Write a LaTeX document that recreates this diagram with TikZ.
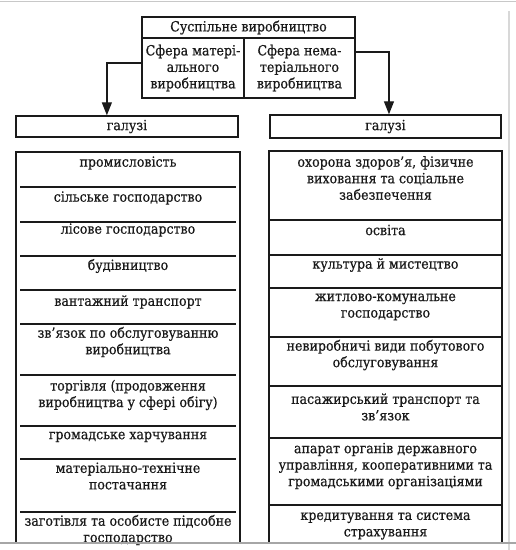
\documentclass[tikz,border=0pt]{standalone}
\usepackage{fontspec}
\setmainfont[FakeStretch=0.9, FakeBold=0.6]{DejaVu Serif}
\usepackage{tikz}
\usetikzlibrary{arrows.meta,positioning,calc}
\definecolor{ink}{HTML}{1A1A1A}
\definecolor{edge}{HTML}{C8C8C8}

\begin{document}
\begin{tikzpicture}[x=1pt, y=-1pt, font=\fontsize{14}{16.5}\selectfont, >={Triangle[length=13pt, width=10pt]},
  cell/.style={draw=ink, line width=1.4pt, inner sep=0pt, align=center, text=ink},
  txt/.style={align=center, inner sep=0pt, text=ink},
  frame/.style={ink, line width=1.7pt},
  sep/.style={ink, line width=1.3pt},
  arr/.style={->, ink, line width=1.3pt},
  scr/.style={edge, line width=1.5pt}]
  \useasboundingbox (0,0) rectangle (516,550);
  % ---- top block ----
  \node[cell, minimum width=213pt, minimum height=21pt] (sv) at (248.5,27.5) {Суспільне виробництво};
  \node[cell, minimum width=102pt, minimum height=60pt] (mat) at (193,68) {Сфера матері-\\ального\\виробництва};
  \node[cell, minimum width=111pt, minimum height=60pt] (nemat) at (299.5,68) {Сфера нема-\\теріального\\виробництва};
  \node[cell, minimum width=222pt, minimum height=21pt] (gl) at (127,126.5) {галузі};
  \node[cell, minimum width=231pt, minimum height=23pt] (gr) at (385.5,126.5) {галузі};
  \draw[arr] (mat.west) ++(0,-5) -| ($(gl.north west)!0.41!(gl.north east)$);
  \draw[arr] (nemat.east) ++(0,-16) -| ($(gr.north west)!0.515!(gr.north east)$);
  % ---- left list ----
  \draw[frame] (16,543) |- (240,152) -- (240,543);
  \foreach \y in {187,222,256,290,324,375,426,459,512} { \draw[sep] (20,\y) -- (236,\y); }
  \foreach \i/\y/\t in {1/163/промисловість, 2/198/сільське господарство, 3/230/лісове господарство,
    4/266/будівництво, 5/302/вантажний транспорт, 6/342/зв'язок по обслуговуванню\\виробництва,
    7/395/торгівля (продовження\\виробництва у сфері обігу), 8/437/громадське харчування,
    9/476/матеріально-технічне\\постачання, 10/530/заготівля та особисте підсобне\\господарство}
    { \node[txt] (l\i) at (128,\y) {\t}; }
  % ---- right list ----
  \draw[frame] (269,543) |- (502,151) -- (502,543);
  \foreach \y in {220,255,288,386,438,505} { \draw[sep] (269,\y) -- (502,\y); }
  \draw[ink, line width=2.4pt] (269,337) -- (502,337);
  \foreach \i/\y/\t in {1/178/{охорона здоров'я, фізичне\\виховання та соціальне\\забезпечення}, 2/230/освіта,
    3/265/культура й мистецтво, 4/307/житлово-комунальне\\господарство,
    5/355/невиробничі види побутового\\обслуговування, 6/407/пасажирський транспорт та\\зв'язок,
    7/466/{апарат органів державного\\управління, кооперативними та\\громадськими організаціями},
    8/526/кредитування та система\\страхування}
    { \node[txt] (r\i) at (385.5,\y) {\t}; }
  % ---- screenshot edges ----
  \draw[scr] (0,1.5) -- (516,1.5);
  \draw[scr, edge!70, line width=2pt] (509,11) -- (509,550);
  \draw[scr, gray!70] (0,543) -- (516,543);
\end{tikzpicture}
\end{document}
